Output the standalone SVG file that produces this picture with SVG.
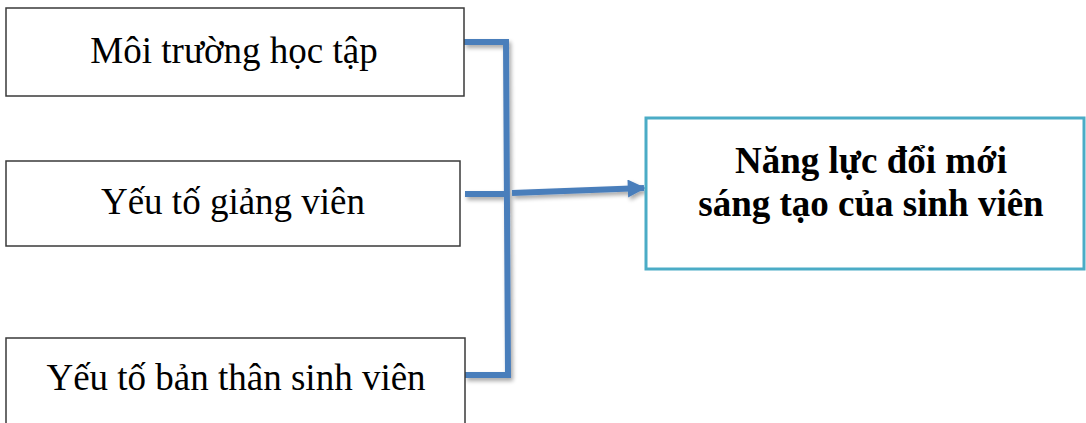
<svg xmlns="http://www.w3.org/2000/svg" width="1086" height="423" viewBox="0 0 1086 423">
  <defs>
    <style>
      .box { fill: #ffffff; stroke: #3a3a3a; stroke-width: 1.5; }
      .target { fill: #ffffff; stroke: #4bacc6; stroke-width: 3; }
      .lbl { font-family: "Liberation Serif", "Times New Roman", serif; font-size: 37px; fill: #000000; text-anchor: middle; }
      .bold { font-weight: bold; }
      .wire { fill: none; stroke: #4a7ebb; stroke-width: 6; stroke-linejoin: miter; stroke-linecap: butt; }
    </style>
    <filter id="shadow" x="-10%" y="-10%" width="130%" height="130%">
      <feGaussianBlur in="SourceAlpha" stdDeviation="2"/>
      <feOffset dx="2" dy="3" result="blur"/>
      <feComponentTransfer><feFuncA type="linear" slope="0.35"/></feComponentTransfer>
      <feMerge><feMergeNode/><feMergeNode in="SourceGraphic"/></feMerge>
    </filter>
    <marker id="head" viewBox="0 0 10 10" refX="9" refY="5" markerWidth="3.6" markerHeight="3" markerUnits="strokeWidth" orient="auto">
      <path d="M0,0 L10,5 L0,10 z" fill="#4a7ebb"/>
    </marker>
  </defs>

  <rect width="1086" height="423" fill="#ffffff"/>

  <!-- connectors: three inputs merged on a vertical bus, one arrow out -->
  <g id="connectors" filter="url(#shadow)">
    <path class="wire" d="M464,42 L506,42 L508,375 L465,375"/>
    <path class="wire" d="M465,194 L504,194"/>
    <path class="wire" d="M512,193 L644,188" marker-end="url(#head)"/>
  </g>

  <g id="node-moi-truong">
    <rect class="box" x="6" y="8" width="458" height="88"/>
    <text class="lbl" x="234" y="63">Môi trường học tập</text>
  </g>

  <g id="node-giang-vien">
    <rect class="box" x="6" y="161" width="454" height="85"/>
    <text class="lbl" x="233" y="214">Yếu tố giảng viên</text>
  </g>

  <g id="node-ban-than">
    <rect class="box" x="6" y="338" width="459" height="95"/>
    <text class="lbl" x="236" y="390">Yếu tố bản thân sinh viên</text>
  </g>

  <g id="node-nang-luc">
    <rect class="target" x="646" y="118" width="438" height="151"/>
    <text class="lbl bold" x="871" y="173">Năng lực đổi mới</text>
    <text class="lbl bold" x="871" y="216">sáng tạo của sinh viên</text>
  </g>
</svg>
